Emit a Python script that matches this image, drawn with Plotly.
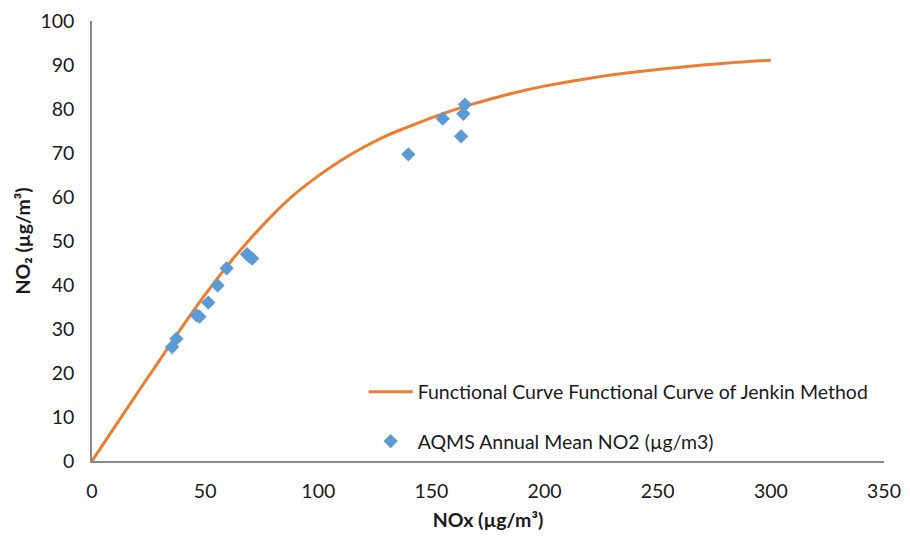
import plotly.graph_objects as go

# Functional curve (Jenkin method)
curve_nox = [0, 10, 20, 30, 40, 50, 60, 70, 80, 90, 100, 110, 120, 130, 140, 150,
             160, 170, 180, 190, 200, 220, 240, 260, 280, 300]
curve_no2 = [0, 7.7, 15.4, 23, 30.6, 37.8, 44.5, 50.5, 56, 60.8, 64.8, 68.3, 71.3, 73.9,
             76, 78, 79.8, 81.4, 82.8, 84.1, 85.2, 87, 88.4, 89.5, 90.4, 91.1]

# AQMS annual mean points
aqms_nox = [35.4, 37.3, 46.2, 47.5, 51.4, 55.5, 59.5, 68.5, 69.5, 70.8,
            139.8, 155.0, 163.1, 164.1, 164.8]
aqms_no2 = [25.9, 27.8, 33.1, 32.8, 36.0, 39.9, 43.8, 47.0, 46.5, 46.0,
            69.7, 77.8, 73.8, 78.9, 81.0]

x_ticks = [0, 50, 100, 150, 200, 250, 300, 350]
y_ticks = [0, 10, 20, 30, 40, 50, 60, 70, 80, 90, 100]

FONT = "Lato"
TXT = "#1a1a1a"
FS = 19.5

fig = go.Figure()
fig.add_trace(go.Scatter(
    x=curve_nox, y=curve_no2, mode="lines", line=dict(color="#ED7D31", width=3, shape="spline"),
    name="Functional Curve Functional Curve of Jenkin Method", legendgroup="a"))
fig.add_trace(go.Scatter(
    x=aqms_nox, y=aqms_no2, mode="markers",
    marker=dict(symbol="diamond", size=11, color="#5B9BD5"),
    name="AQMS Annual Mean NO2 (µg/m3)", legendgroup="b"))

fig.update_layout(
    width=902, height=529,
    margin=dict(l=83.5, r=25.5, t=13, b=75.5),
    paper_bgcolor="white", plot_bgcolor="white",
    font=dict(family=FONT, size=FS, color=TXT),
    showlegend=True,
    legend=dict(x=0.343, y=0.201, xanchor="left", yanchor="top", bgcolor="rgba(0,0,0,0)",
                traceorder="grouped", tracegroupgap=21, itemwidth=44,
                font=dict(size=FS, color=TXT)),
    xaxis=dict(range=[0, 350], tickvals=x_ticks, showgrid=False, zeroline=False,
               showline=True, linecolor="#898989", linewidth=1.5, automargin=False,
               ticks="outside", ticklen=12, tickcolor="rgba(0,0,0,0)",
               title=dict(text="<b>NOx (µg/m³)</b>", standoff=12, font=dict(size=FS))),
    yaxis=dict(range=[0, 100], tickvals=y_ticks, showgrid=False, zeroline=False,
               showline=True, linecolor="#898989", linewidth=1.5, automargin=False,
               ticks="outside", ticklen=12, tickcolor="rgba(0,0,0,0)",
               title=dict(text="<b>NO₂ (µg/m³)</b>", standoff=5, font=dict(size=FS))),
)

fig.write_html("out.html")
